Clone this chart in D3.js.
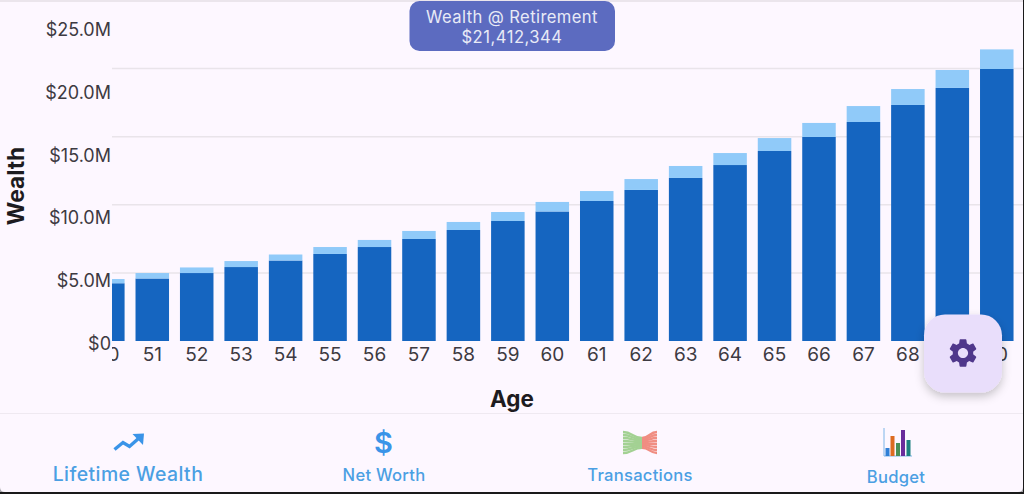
<!DOCTYPE html>
<html>
<head>
<meta charset="utf-8">
<script src="https://cdn.jsdelivr.net/npm/d3@7/dist/d3.min.js"></script>
<style>
  html, body { margin: 0; padding: 0; background: #1a1a1a; overflow: hidden; }
  svg { display: block; font-family: Inter, "Noto Sans", sans-serif; }
  .tick text { fill: #3d3a42; }
</style>
</head>
<body>
<div id="root"></div>
<script>
// values in $M
const ages = [50,51,52,53,54,55,56,57,58,59,60,61,62,63,64,65,66,67,68,69,70];
const baseWealth = [4.24,4.59,4.99,5.43,5.91,6.39,6.90,7.49,8.15,8.81,9.51,10.28,11.09,11.97,12.92,13.95,14.98,16.08,17.33,18.58,19.97];
const topWealth = [0.31,0.40,0.41,0.44,0.44,0.51,0.52,0.59,0.59,0.66,0.70,0.73,0.80,0.88,0.88,0.95,1.03,1.17,1.17,1.32,1.44];
const gridValues = [5,10,15,20];
const yLabels = [0,5,10,15,20,25];
const colors = { base: '#1565c0', top: '#90caf9' };
const navItems = ['Lifetime Wealth','Net Worth','Transactions','Budget'];

const width = 1024, height = 494;
const plot = { left: 112, right: 1024, top: 0, bottom: 341 };

const svg = d3.select('#root').append('svg')
    .attr('width', width)
    .attr('height', height);

// app surface: square on top, small grey rounded corners at the bottom
svg.append('rect').attr('x', 0).attr('y', 484).attr('width', 6).attr('height', 8).attr('fill', '#a5a3a8');
svg.append('rect').attr('x', 1017).attr('y', 484).attr('width', 6).attr('height', 8).attr('fill', '#a5a3a8');
svg.append('path')
    .attr('d', 'M0 0 H1023 V487 Q1023 492 1018 492 H5 Q0 492 0 487 Z')
    .attr('fill', '#fdf7ff');
svg.append('line')
    .attr('x1', 0).attr('x2', 1023).attr('y1', 1).attr('y2', 1)
    .attr('stroke', '#e4dfe6').attr('stroke-width', 1.5);

const defs = svg.append('defs');
defs.append('clipPath').attr('id', 'plot-clip')
    .append('rect')
    .attr('x', plot.left).attr('y', 0)
    .attr('width', 911).attr('height', 400);
const shadow = defs.append('filter').attr('id', 'fab-shadow')
    .attr('x', '-30%').attr('y', '-30%').attr('width', '160%').attr('height', '170%');
shadow.append('feDropShadow')
    .attr('dx', 0).attr('dy', 4).attr('stdDeviation', 5)
    .attr('flood-color', '#000').attr('flood-opacity', 0.22);

// scales
const xScale = d3.scaleBand()
    .domain(ages)
    .range([85.6, 1019])
    .paddingInner(0.246)
    .paddingOuter(0.123);
const yScale = d3.scaleLinear()
    .domain([0, 25])
    .range([plot.bottom, 0.5]);
// the y labels in the reference do not sit on their gridlines
const yLabelScale = d3.scaleLinear()
    .domain([0, 25])
    .range([344, 29.5]);

// grid
svg.append('g').selectAll('line')
    .data(gridValues)
    .enter()
    .append('line')
    .attr('x1', plot.left)
    .attr('x2', 1023)
    .attr('y1', d => yScale(d))
    .attr('y2', d => yScale(d))
    .attr('stroke', '#e9e4ea')
    .attr('stroke-width', 1.5);

// stacked bars
const rows = ages.map((age, i) => ({ age, base: baseWealth[i], top: topWealth[i] }));
const stacked = d3.stack().keys(['base', 'top'])(rows);
const bars = svg.append('g').attr('clip-path', 'url(#plot-clip)');
bars.selectAll('g')
    .data(stacked)
    .enter()
    .append('g')
    .attr('fill', d => colors[d.key])
    .selectAll('rect')
    .data(d => d)
    .enter()
    .append('rect')
    .attr('x', d => xScale(d.data.age))
    .attr('y', d => yScale(d[1]))
    .attr('width', xScale.bandwidth())
    .attr('height', d => yScale(d[0]) - yScale(d[1]));

// axes
const xAxis = d3.axisBottom(xScale).tickSize(0).tickPadding(0);
const xAxisG = svg.append('g')
    .attr('clip-path', 'url(#plot-clip)')
    .attr('transform', 'translate(0,347)')
    .call(xAxis);
xAxisG.select('.domain').remove();
xAxisG.selectAll('text')
    .attr('font-size', 19)
    .attr('font-family', 'Inter, sans-serif');

const yAxis = d3.axisLeft(yLabelScale)
    .tickValues(yLabels)
    .tickSize(0)
    .tickPadding(0)
    .tickFormat(d => d === 0 ? '$0' : `$${d.toFixed(1)}M`);
const yAxisG = svg.append('g')
    .attr('transform', 'translate(111,0)')
    .call(yAxis);
yAxisG.select('.domain').remove();
yAxisG.selectAll('text')
    .attr('font-size', 18)
    .attr('font-family', 'Inter, sans-serif');

// axis titles
svg.append('text')
    .text('Wealth')
    .attr('text-anchor', 'middle')
    .attr('transform', 'translate(24,186) rotate(-90)')
    .attr('font-size', 22.7)
    .attr('font-weight', 700)
    .attr('fill', '#1d1b20');
svg.append('text')
    .text('Age')
    .attr('text-anchor', 'middle')
    .attr('x', 512).attr('y', 406.5)
    .attr('font-size', 22.5)
    .attr('font-weight', 700)
    .attr('fill', '#1d1b20');

// tooltip
svg.append('rect')
    .attr('x', 409.5).attr('y', 1)
    .attr('width', 205.5).attr('height', 50)
    .attr('rx', 10)
    .attr('fill', '#5c6bc0');
svg.append('text')
    .text('Wealth @ Retirement')
    .attr('x', 512).attr('y', 22.5)
    .attr('text-anchor', 'middle')
    .attr('font-size', 16.6)
    .attr('letter-spacing', 0.4)
    .attr('fill', '#e8eaf6');
svg.append('text')
    .text('$21,412,344')
    .attr('x', 512).attr('y', 42.5)
    .attr('text-anchor', 'middle')
    .attr('font-size', 16.6)
    .attr('letter-spacing', 0.5)
    .attr('fill', '#e8eaf6');

// settings button
svg.append('rect')
    .attr('x', 924).attr('y', 314.5)
    .attr('width', 78).attr('height', 78)
    .attr('rx', 21)
    .attr('fill', '#e9defb')
    .attr('filter', 'url(#fab-shadow)');
svg.append('path')
    .attr('d', 'M19.14 12.94c.04-.3.06-.61.06-.94 0-.32-.02-.64-.07-.94l2.03-1.58c.18-.14.23-.41.12-.61l-1.92-3.32c-.12-.22-.37-.29-.59-.22l-2.39.96c-.5-.38-1.03-.7-1.62-.94l-.36-2.54c-.04-.24-.24-.41-.48-.41h-3.84c-.24 0-.43.17-.47.41l-.36 2.54c-.59.24-1.13.57-1.62.94l-2.39-.96c-.22-.08-.47 0-.59.22L2.74 8.87c-.12.21-.08.47.12.61l2.03 1.58c-.05.3-.09.63-.09.94s.02.64.07.94l-2.03 1.58c-.18.14-.23.41-.12.61l1.92 3.32c.12.22.37.29.59.22l2.39-.96c.5.38 1.03.7 1.62.94l.36 2.54c.05.24.24.41.48.41h3.84c.24 0 .44-.17.47-.41l.36-2.54c.59-.24 1.13-.56 1.62-.94l2.39.96c.22.08.47 0 .59-.22l1.92-3.32c.12-.22.07-.47-.12-.61l-2.01-1.58zM12 15.6c-1.98 0-3.6-1.62-3.6-3.6s1.62-3.6 3.6-3.6 3.6 1.62 3.6 3.6-1.62 3.6-3.6 3.6z')
    .attr('transform', 'translate(963,353) scale(1.42) translate(-12,-12)')
    .attr('fill', '#4f378b');

// bottom nav
svg.append('line')
    .attr('x1', 0).attr('x2', 1023).attr('y1', 413.5).attr('y2', 413.5)
    .attr('stroke', '#efe9f1');

const navBlue = '#4b9fe3';
const navPos = [
  { x: 128, y: 480.5, size: 19.4, ls: 0.45 },
  { x: 384, y: 481, size: 16.6, ls: 0.25 },
  { x: 640, y: 481, size: 16.6, ls: 0.25 },
  { x: 896, y: 483, size: 16.6, ls: 0.25 }
];
svg.append('g').selectAll('text')
    .data(navItems)
    .enter()
    .append('text')
    .text(d => d)
    .attr('x', (d, i) => navPos[i].x)
    .attr('y', (d, i) => navPos[i].y)
    .attr('font-size', (d, i) => navPos[i].size)
    .attr('letter-spacing', (d, i) => navPos[i].ls)
    .attr('font-weight', 500)
    .attr('text-anchor', 'middle')
    .attr('fill', navBlue);

// trending icon
svg.append('path')
    .attr('d', 'M114.5 449.5 L123 442.5 L129.5 446.5 L138.5 438.5')
    .attr('fill', 'none')
    .attr('stroke', '#3a94e8')
    .attr('stroke-width', 3.4);
svg.append('path')
    .attr('d', 'M132.5 434 L144 433.5 L143 445 Z')
    .attr('fill', '#3a94e8');

// net worth icon
svg.append('text')
    .text('$')
    .attr('x', 383.5).attr('y', 453)
    .attr('text-anchor', 'middle')
    .attr('font-size', 29)
    .attr('font-weight', 600)
    .attr('fill', '#3a94e8');

// transactions icon: fan of green and red strands
const fanLeft = d3.range(8), fanGen = d3.line().curve(d3.curveBumpX);
const fan = svg.append('g').attr('fill', 'none').attr('stroke-width', 2.3);
fanLeft.forEach(i => {
  const yEdge = 432 + i * 3;
  const yMid = 438 + i * 1.4;
  fan.append('path')
      .attr('d', fanGen([[623, yEdge], [642, yMid]]))
      .attr('stroke', '#a3d193');
  fan.append('path')
      .attr('d', fanGen([[642, yMid], [657, yEdge]]))
      .attr('stroke', '#f08d82');
});

// budget icon
const budgetIcon = svg.append('g');
budgetIcon.append('path')
    .attr('d', 'M884 428 V456 H912')
    .attr('fill', 'none')
    .attr('stroke', '#7db5e8')
    .attr('stroke-width', 1);
const budgetBars = [
  { x: 885.5, h: 8, c: '#2f7fd6' },
  { x: 890.5, h: 20, c: '#dd6b20' },
  { x: 896, h: 13, c: '#4a8f55' },
  { x: 901, h: 26, c: '#6a2c9c' },
  { x: 906.5, h: 16, c: '#1d8080' }
];
budgetIcon.selectAll('rect')
    .data(budgetBars)
    .enter()
    .append('rect')
    .attr('x', d => d.x)
    .attr('y', d => 456 - d.h)
    .attr('width', 4)
    .attr('height', d => d.h)
    .attr('fill', d => d.c);
</script>
</body>
</html>
